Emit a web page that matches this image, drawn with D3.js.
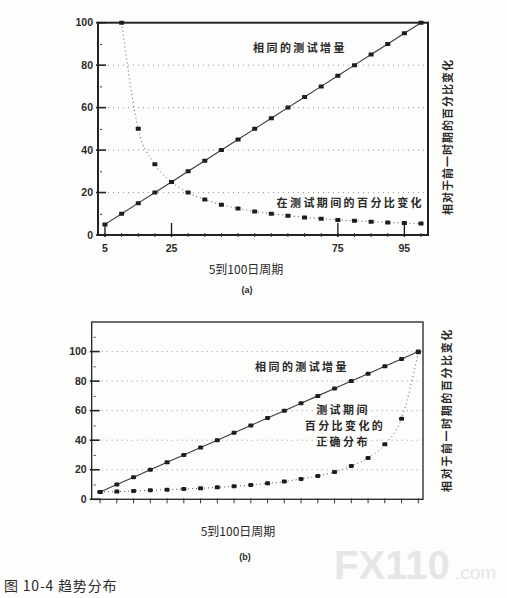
<!DOCTYPE html>
<html>
<head>
    <meta charset="utf-8">
    <title>图 10-4 趋势分布</title>
    <script src="https://d3js.org/d3.v7.min.js"></script>
    <style>
        body { margin: 0; background: #fdfdfb; }
        svg { display: block; }
        .num { font-family: "Liberation Sans", Arial, sans-serif; font-weight: bold; font-size: 10.5px; fill: #2a2a2a; }
        .cjk { font-family: "Noto Sans CJK SC", sans-serif; fill: #2a2a2a; }
    </style>
</head>
<body>
<svg width="507" height="598"></svg>
<script>
    // periods on the x axis (days)
    var periods = [5, 10, 15, 20, 25, 30, 35, 40, 45, 50, 55, 60, 65, 70, 75, 80, 85, 90, 95, 100];

    // (a) same test increment and percent change over the test period
    var sameIncA = [5, 10, 15, 20, 25, 30, 35, 40, 45, 50, 55, 60, 65, 70, 75, 80, 85, 90, 95, 100];
    var pctPeriodsA = [10, 15, 20, 25, 30, 35, 40, 45, 50, 55, 60, 65, 70, 75, 80, 85, 90, 95, 100];
    var pctChangeA = [100, 50, 33.3, 25, 20, 16.7, 14.3, 12.5, 11.1, 10, 9.1, 8.3, 7.7, 7.1, 6.7, 6.3, 5.9, 5.6, 5.4];

    // (b) same increment and the correct distribution of percent change
    var sameIncB = [5, 10, 15, 20, 25, 30, 35, 40, 45, 50, 55, 60, 65, 70, 75, 80, 85, 90, 95, 100];
    var pctChangeB = [5, 5.2, 5.6, 6.1, 6.5, 7, 7.4, 8.1, 8.8, 9.7, 10.8, 12, 13.8, 15.8, 18.5, 22.6, 28, 37.2, 54.6, 99.6];

    // tick labels
    var xLabelsA = [5, 25, 75, 95];
    var yLabelsA = [0, 20, 40, 60, 80, 100];
    var yLabelsB = [0, 20, 40, 60, 80, 100];

    var svg = d3.select("svg");

    function drawPanel(p) {
        var x = d3.scaleLinear().domain(p.xDomain).range([p.left, p.right]);
        var y = d3.scaleLinear().domain(p.yDomain).range([p.bottom, p.top]);
        var g = svg.append("g");

        // dotted grid
        g.selectAll(".grid").data(p.grid).enter().append("line")
            .attr("x1", p.left).attr("x2", p.right)
            .attr("y1", function(d) { return y(d); })
            .attr("y2", function(d) { return y(d); })
            .attr("stroke", "#8a8a8a").attr("stroke-width", 0.9)
            .attr("stroke-dasharray", "1,4");

        // frame
        g.append("rect")
            .attr("x", p.left).attr("y", p.top)
            .attr("width", p.right - p.left).attr("height", p.bottom - p.top)
            .attr("fill", "none").attr("stroke", "#222").attr("stroke-width", p.frameWidth);

        // y ticks: major (inward) and minor
        var yAxis = d3.axisLeft(y).tickValues(p.yMinor).tickSize(-2).tickFormat("");
        g.append("g").attr("transform", "translate(" + (p.left + 2) + ",0)").call(yAxis)
            .call(function(a) { a.select(".domain").remove(); a.selectAll("line").attr("stroke", "#333"); });
        g.selectAll(".ymaj").data(p.yLabels).enter().append("line")
            .attr("x1", p.left - 2).attr("x2", p.left + 8)
            .attr("y1", function(d) { return y(d); })
            .attr("y2", function(d) { return y(d); })
            .attr("stroke", "#222").attr("stroke-width", 1.6);
        g.selectAll(".ylab").data(p.yLabels).enter().append("text")
            .attr("class", "num")
            .attr("x", p.left - 5)
            .attr("y", function(d) { return y(d); })
            .attr("dy", "0.35em")
            .attr("text-anchor", "end")
            .text(function(d) { return d; });

        // x ticks
        g.selectAll(".xmin").data(periods).enter().append("line")
            .attr("x1", function(d) { return x(d); })
            .attr("x2", function(d) { return x(d); })
            .attr("y1", p.bottom - p.xTickUp).attr("y2", p.bottom + p.xTickDown)
            .attr("stroke", "#333").attr("stroke-width", 1);
        if (p.xLabels) {
            g.selectAll(".xmaj").data(p.xLabels).enter().append("line")
                .attr("x1", function(d) { return x(d); })
                .attr("x2", function(d) { return x(d); })
                .attr("y1", p.bottom - 12).attr("y2", p.bottom + 2)
                .attr("stroke", "#222").attr("stroke-width", 1.4);
            g.selectAll(".xlab").data(p.xLabels).enter().append("text")
                .attr("class", "num")
                .attr("x", function(d) { return x(d); })
                .attr("y", p.bottom + 17)
                .attr("text-anchor", "middle")
                .text(function(d) { return d; });
        }

        // series lines
        var line = d3.line()
            .x(function(d) { return x(d[0]); })
            .y(function(d) { return y(d[1]); });

        g.append("path")
            .datum(d3.zip(p.solidX, p.solidY))
            .attr("d", line.curve(d3.curveLinear))
            .attr("fill", "none").attr("stroke", "#3a3a3a").attr("stroke-width", 1.1);
        g.append("path")
            .datum(d3.zip(p.dotX, p.dotY))
            .attr("d", line.curve(d3.curveMonotoneX))
            .attr("fill", "none").attr("stroke", "#555").attr("stroke-width", 1)
            .attr("stroke-dasharray", "1,3");

        // markers
        var pts = d3.zip(p.solidX, p.solidY).concat(d3.zip(p.dotX, p.dotY));
        g.selectAll(".mk").data(pts).enter().append("rect")
            .attr("x", function(d) { return x(d[0]) - p.mk / 2 - 0.5; })
            .attr("y", function(d) { return y(d[1]) - p.mk / 2; })
            .attr("width", p.mk + 1).attr("height", p.mk)
            .attr("rx", p.mkRound)
            .attr("fill", "#1e1e1e");

        // rotated right-hand title
        g.append("text")
            .attr("class", "cjk")
            .attr("transform", "translate(" + p.rightTitleX + "," + p.rightTitleY + ") rotate(-90)")
            .attr("text-anchor", "middle")
            .attr("dy", "0.35em")
            .style("font-size", "11px").style("font-weight", "bold")
            .style("letter-spacing", p.rightSpacing + "px")
            .text("相对于前一时期的百分比变化");

        // x title and panel letter
        g.append("text")
            .attr("class", "cjk")
            .attr("x", p.xTitleX).attr("y", p.xTitleY)
            .attr("text-anchor", "middle")
            .style("font-size", "12px")
            .text("5到100日周期");
        g.append("text")
            .attr("class", "num")
            .attr("x", p.letterX).attr("y", p.letterY)
            .attr("text-anchor", "middle")
            .style("font-size", "9px")
            .text(p.letter);

        // in-plot labels
        p.notes.forEach(function(n) {
            g.append("text")
                .attr("class", "cjk")
                .attr("x", n.x).attr("y", n.y)
                .attr("text-anchor", n.anchor)
                .style("font-size", "11px").style("font-weight", "bold")
                .style("letter-spacing", "2.4px")
                .text(n.text);
        });
    }

    // panel (a)
    drawPanel({
        left: 98, right: 428, top: 22.7, bottom: 235,
        xDomain: [2.9, 102.1], yDomain: [0, 100],
        grid: [20, 40, 60, 80],
        yMinor: [10, 30, 50, 70, 90],
        yLabels: yLabelsA, xLabels: xLabelsA,
        xTickUp: 2, xTickDown: 2,
        frameWidth: 2,
        solidX: periods, solidY: sameIncA,
        dotX: pctPeriodsA, dotY: pctChangeA,
        mk: 4, mkRound: 0.5,
        rightTitleX: 448, rightTitleY: 137, rightSpacing: 1,
        xTitleX: 246, xTitleY: 274,
        letter: "(a)", letterX: 247, letterY: 293,
        notes: [
            {text: "相同的测试增量", x: 300, y: 52, anchor: "middle"},
            {text: "在测试期间的百分比变化", x: 424, y: 207, anchor: "end"}
        ]
    });

    // panel (b)
    drawPanel({
        left: 91.7, right: 423, top: 322, bottom: 499.3,
        xDomain: [2.5, 101.4], yDomain: [0, 120],
        grid: [20, 40, 60, 80, 100],
        yMinor: [10, 30, 50, 70, 90, 110],
        yLabels: yLabelsB, xLabels: null,
        xTickUp: 1, xTickDown: 4,
        frameWidth: 1.3,
        solidX: periods, solidY: sameIncB,
        dotX: periods, dotY: pctChangeB,
        mk: 4, mkRound: 1.2,
        rightTitleX: 447, rightTitleY: 410, rightSpacing: 1.6,
        xTitleX: 238, xTitleY: 536,
        letter: "(b)", letterX: 245, letterY: 560,
        notes: [
            {text: "相同的测试增量", x: 302, y: 371, anchor: "middle"},
            {text: "测试期间", x: 343, y: 414, anchor: "middle"},
            {text: "百分比变化的", x: 345, y: 430, anchor: "middle"},
            {text: "正确分布", x: 343, y: 446, anchor: "middle"}
        ]
    });

    // watermark
    svg.append("text")
        .attr("x", 334).attr("y", 579)
        .style("font-family", "'Liberation Sans', Arial, sans-serif")
        .style("font-weight", "bold").style("font-size", "40px")
        .attr("fill", "#e6e6e6")
        .text("FX110");
    svg.append("text")
        .attr("x", 455).attr("y", 579)
        .style("font-family", "'Liberation Sans', Arial, sans-serif")
        .style("font-size", "19px")
        .attr("fill", "#e6e6e6")
        .text(".com");

    // figure caption
    svg.append("text")
        .attr("class", "cjk")
        .attr("x", 4).attr("y", 591)
        .style("font-size", "14px")
        .style("letter-spacing", "0.8px")
        .text("图 10-4 趋势分布");
</script>
</body>
</html>
